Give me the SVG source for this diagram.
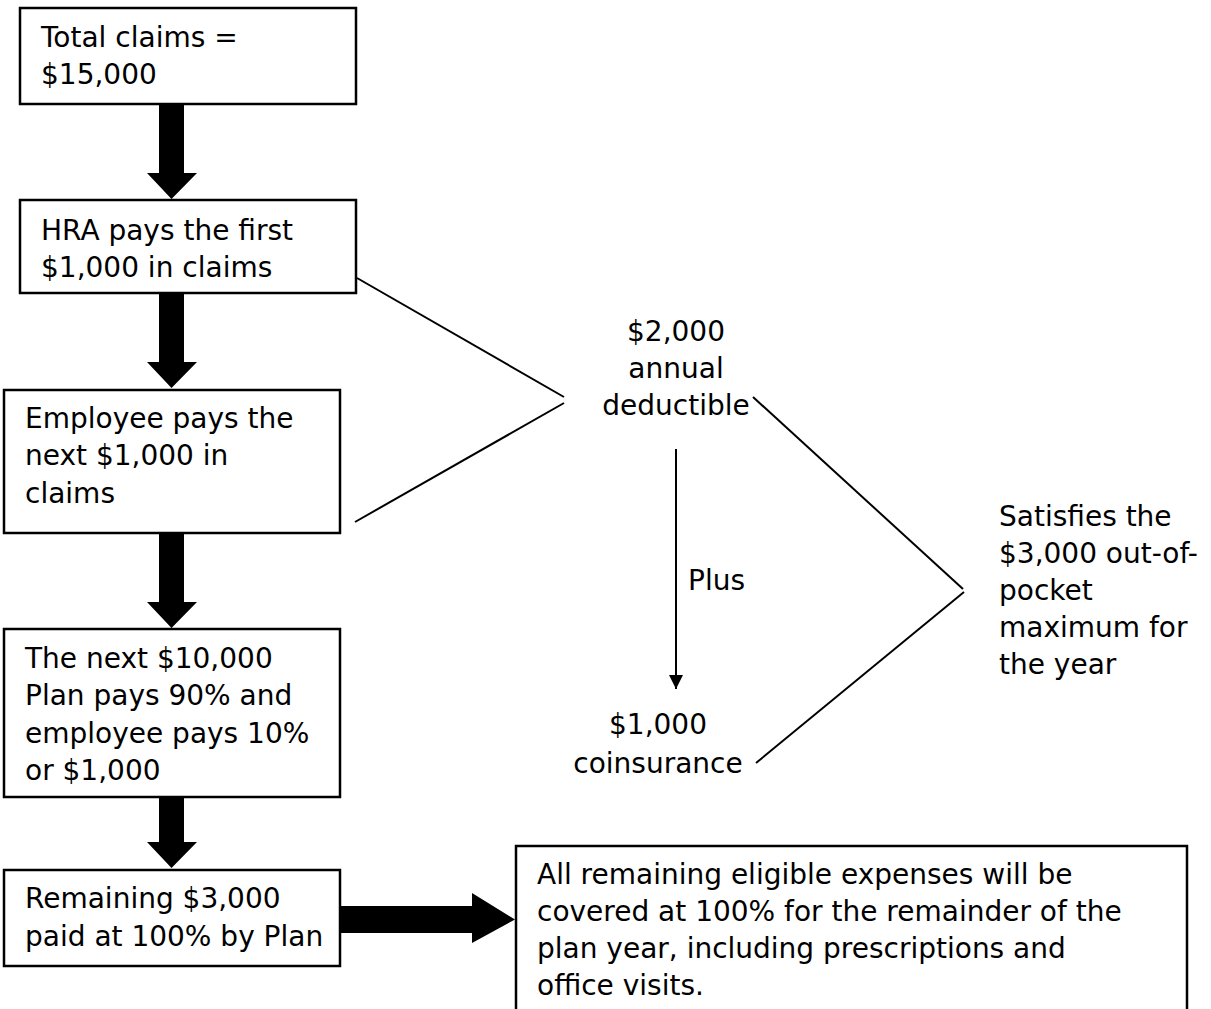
<svg xmlns="http://www.w3.org/2000/svg" width="1211" height="1009" viewBox="0 0 1211 1009">
<style>
.box{fill:#fff;stroke:#000;stroke-width:2.5}
.t{font-family:"DejaVu Sans",Verdana,sans-serif;font-size:28px;fill:#000}
.m{text-anchor:middle}
.ln{stroke:#000;stroke-width:2;fill:none}
.fat{fill:#000}
</style>
<defs>
<marker id="ah" markerWidth="16" markerHeight="16" refX="14" refY="7" orient="auto" markerUnits="userSpaceOnUse">
<path d="M0,0 L14,7 L0,14 Z" fill="#000"/>
</marker>
</defs>
<rect width="1211" height="1009" fill="#fff"/>
<g id="connectors">
<polygon class="fat" points="159,104 184,104 184,173 197,173 171.5,199 147,173 159,173"/>
<polygon class="fat" points="159,293 184,293 184,362 197,362 171.5,388 147,362 159,362"/>
<polygon class="fat" points="159,533 184,533 184,602 197,602 171.5,628 147,602 159,602"/>
<polygon class="fat" points="159,797 184,797 184,842 197,842 171.5,868 147,842 159,842"/>
<polygon class="fat" points="340,906 472,906 472,893 515,919.5 472,943 472,933 340,933"/>
<line class="ln" x1="357" y1="278" x2="564" y2="397"/>
<line class="ln" x1="355" y1="522" x2="564" y2="403"/>
<line class="ln" x1="753" y1="397" x2="963" y2="589"/>
<line class="ln" x1="756" y1="763" x2="964" y2="592"/>
<line class="ln" x1="676" y1="449" x2="676" y2="689" marker-end="url(#ah)"/>
</g>
<g id="n1">
<rect class="box" x="20" y="8" width="336" height="96"/>
<text class="t" x="41"><tspan x="41" y="47">Total claims =</tspan><tspan x="41" y="84">$15,000</tspan></text>
</g>
<g id="n2">
<rect class="box" x="20" y="200" width="336" height="93"/>
<text class="t"><tspan x="41" y="240">HRA pays the first</tspan><tspan x="41" y="277">$1,000 in claims</tspan></text>
</g>
<g id="n3">
<rect class="box" x="4" y="390" width="336" height="143"/>
<text class="t"><tspan x="25" y="428">Employee pays the</tspan><tspan x="25" y="465">next $1,000 in</tspan><tspan x="25" y="503">claims</tspan></text>
</g>
<g id="n4">
<rect class="box" x="4" y="629" width="336" height="168"/>
<text class="t"><tspan x="25" y="668">The next $10,000</tspan><tspan x="25" y="705">Plan pays 90% and</tspan><tspan x="25" y="743">employee pays 10%</tspan><tspan x="25" y="780">or $1,000</tspan></text>
</g>
<g id="n5">
<rect class="box" x="4" y="870" width="336" height="96"/>
<text class="t"><tspan x="25" y="908">Remaining $3,000</tspan><tspan x="25" y="946">paid at 100% by Plan</tspan></text>
</g>
<g id="n6">
<rect class="box" x="516" y="846" width="671" height="180"/>
<text class="t"><tspan x="537" y="884">All remaining eligible expenses will be</tspan><tspan x="537" y="921">covered at 100% for the remainder of the</tspan><tspan x="537" y="958">plan year, including prescriptions and</tspan><tspan x="537" y="995">office visits.</tspan></text>
</g>
<g id="n7">
<text class="t m"><tspan x="676" y="341">$2,000</tspan><tspan x="676" y="378">annual</tspan><tspan x="676" y="415">deductible</tspan></text>
</g>
<g id="n8">
<text class="t m"><tspan x="658" y="734">$1,000</tspan><tspan x="658" y="773">coinsurance</tspan></text>
</g>
<g id="n9">
<text class="t"><tspan x="999" y="526">Satisfies the</tspan><tspan x="999" y="563">$3,000 out-of-</tspan><tspan x="999" y="600">pocket</tspan><tspan x="999" y="637">maximum for</tspan><tspan x="999" y="674">the year</tspan></text>
</g>
<g id="l1">
<text class="t" x="688" y="590">Plus</text>
</g>
</svg>
